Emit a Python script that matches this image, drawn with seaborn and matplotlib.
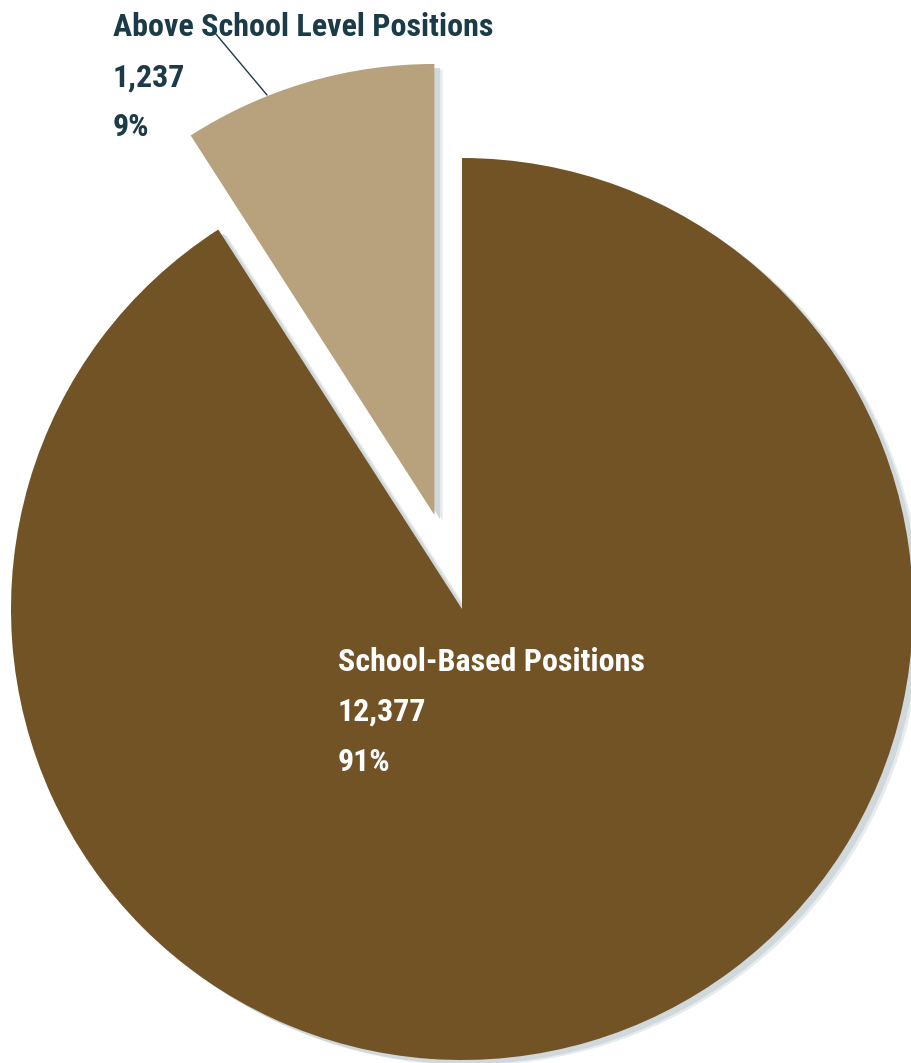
import matplotlib
matplotlib.use("Agg")
import matplotlib.pyplot as plt
import matplotlib.patheffects as pe
from matplotlib import font_manager
import seaborn as sns

# ---- data ----
categories = ["Above School Level Positions", "School-Based Positions"]
counts = [1237, 12377]
percents = ["9%", "91%"]
count_labels = ["1,237", "12,377"]

colors = sns.color_palette(["#B8A27E", "#725326"])

sns.set_theme(style="white")

chosen = "DejaVu Sans"
for cand in ["Liberation Sans Narrow", "Roboto Condensed", "Open Sans Condensed",
             "Noto Sans Condensed", "Noto Sans", "Roboto", "Lato"]:
    try:
        font_manager.findfont(font_manager.FontProperties(family=cand), fallback_to_default=False)
        chosen = cand
        break
    except Exception:
        continue
plt.rcParams["font.family"] = [chosen, "DejaVu Sans"]

W, H = 911, 1063
fig = plt.figure(figsize=(W / 100, H / 100), dpi=100)
ax = fig.add_axes([0, 0, 1, 1])

shadow = [
    pe.SimplePatchShadow(offset=(6, -4), shadow_rgbFace="#e6ebed", alpha=1.0),
    pe.SimplePatchShadow(offset=(4, -3), shadow_rgbFace="#d0d8db", alpha=1.0),
    pe.Normal(),
]

wedges, _ = ax.pie(
    counts,
    colors=colors,
    startangle=90,
    counterclock=True,
    explode=[98.0, 0.0],
    radius=451,
    center=(462, -609),
    frame=True,
    wedgeprops=dict(linewidth=0, path_effects=shadow),
)
ax.set_xlim(0, W)
ax.set_ylim(-H, 0)
ax.set_aspect("equal")
ax.axis("off")

dark = "#1B3B48"
fs = 23
tk = dict(fontsize=fs, fontweight="bold", fontstretch="condensed", va="baseline", ha="left")
# outer label
ax.text(113, -36, categories[0], color=dark, **tk)
ax.text(113, -87, count_labels[0], color=dark, **tk)
ax.text(113, -136, percents[0], color=dark, **tk)
ax.plot([215, 267], [-33, -95], color=dark, linewidth=1.0)

# inner label
ax.text(338, -671, categories[1], color="white", **tk)
ax.text(338, -721, count_labels[1], color="white", **tk)
ax.text(338, -771, percents[1], color="white", **tk)

fig.savefig("out.png", dpi=100, facecolor="white")
